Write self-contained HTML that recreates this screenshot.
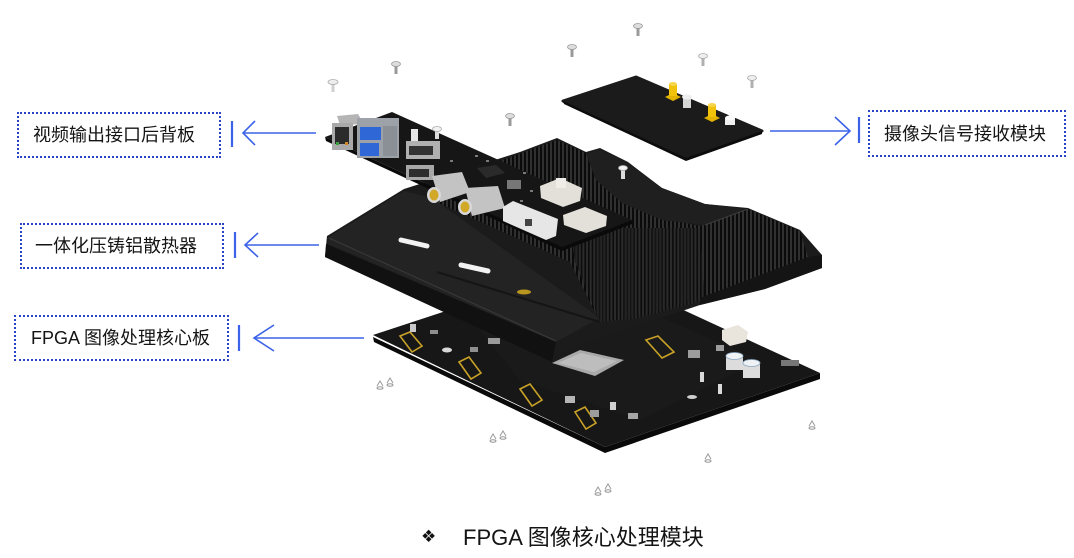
<!DOCTYPE html>
<html><head><meta charset="utf-8">
<style>
html,body{margin:0;padding:0;background:#fff;}
body{width:1074px;height:558px;position:relative;overflow:hidden;font-family:"Liberation Sans","Noto Sans CJK SC",sans-serif;}
.box{position:absolute;border:2px dotted #2b43c6;box-sizing:border-box;}
.lbl{position:absolute;font-size:18px;line-height:20px;color:#141414;white-space:nowrap;font-family:"Liberation Sans","Noto Sans CJK SC",sans-serif;}
svg{position:absolute;left:0;top:0;}
.cap{position:absolute;left:463px;top:524px;font-size:22px;line-height:28px;color:#141414;white-space:nowrap;}
.dia{position:absolute;left:421px;top:527px;font-size:17px;line-height:20px;color:#111;font-family:"DejaVu Sans",sans-serif;}
</style></head><body>

<svg width="1074" height="558" viewBox="0 0 1074 558" xmlns="http://www.w3.org/2000/svg">
<defs>
<pattern id="fins" width="4" height="10" patternUnits="userSpaceOnUse">
<rect width="4" height="10" fill="#303030"/><rect width="2" height="10" fill="#0b0b0b"/>
</pattern>
<pattern id="fins2" width="3.5" height="10" patternUnits="userSpaceOnUse">
<rect width="3.5" height="10" fill="#2a2a2a"/><rect width="1.6" height="10" fill="#0d0d0d"/>
</pattern>
</defs>

<!-- arrows -->
<g stroke="#3b62e8" fill="none" stroke-width="1.6">
<line x1="232" y1="121" x2="232" y2="147" stroke-width="2.2"/>
<line x1="243" y1="133" x2="316" y2="133"/>
<polyline points="255,121 243,133 255,145"/>
<line x1="235" y1="232" x2="235" y2="258" stroke-width="2.2"/>
<line x1="245" y1="245" x2="319" y2="245"/>
<polyline points="258,233 245,245 258,257"/>
<line x1="239" y1="325" x2="239" y2="351" stroke-width="2.2"/>
<line x1="254" y1="338" x2="364" y2="338"/>
<polyline points="274,325 254,338 274,351"/>
<line x1="859" y1="117" x2="859" y2="143" stroke-width="2.2"/>
<line x1="770" y1="131" x2="850" y2="131"/>
<polyline points="835,117 850,131 835,145"/>
</g>

<!-- ===== bottom PCB ===== -->
<polygon points="373,337 605,447 820,373 820,379 605,453 374,342" fill="#0a0a0a"/>
<polygon points="373,335 586,265 820,373 605,447" fill="#171717"/>
<polygon points="480,330 620,300 760,360 640,420 520,380" fill="#1c1c1c" opacity="0.6"/>
<!-- chip -->
<polygon points="552,363 580,350 624,360 595,376" fill="#a9a9a9"/>
<polygon points="558,363 581,353 617,361 594,372" fill="#bdbdbd"/>
<!-- gold connectors -->
<g fill="none" stroke="#c9a227" stroke-width="1.6">
<polygon points="400,336 410,332 422,346 412,352"/>
<polygon points="459,362 469,357 481,373 471,379"/>
<polygon points="520,389 530,384 542,400 532,406"/>
<polygon points="575,412 585,407 596,423 586,429"/>
<polygon points="646,340 658,336 674,352 662,358"/>
</g>
<!-- components -->
<g fill="#8f8f8f">
<rect x="410" y="324" width="6" height="8" fill="#c9c9c9"/>
<rect x="430" y="330" width="8" height="4"/>
<rect x="488" y="338" width="12" height="6" fill="#9a9a9a"/>
<rect x="470" y="347" width="8" height="5"/>
<ellipse cx="447" cy="350" rx="5" ry="2.5" fill="#d8d8d8"/>
<rect x="565" y="396" width="10" height="7" fill="#b5b5b5"/>
<rect x="590" y="410" width="9" height="7" fill="#9d9d9d"/>
<rect x="610" y="402" width="6" height="8" fill="#d0d0d0"/>
<rect x="628" y="413" width="10" height="6" fill="#a5a5a5"/>
<rect x="688" y="350" width="12" height="8" fill="#9d9d9d"/>
<rect x="716" y="345" width="8" height="6" fill="#9d9d9d"/>
<rect x="700" y="372" width="4" height="10" fill="#d9d9d9"/>
<rect x="718" y="384" width="4" height="10" fill="#d9d9d9"/>
<rect x="781" y="360" width="18" height="6" fill="#777"/>
<ellipse cx="692" cy="397" rx="5" ry="2" fill="#cfcfcf"/>
</g>
<!-- caps -->
<rect x="726" y="356" width="17" height="14" fill="#dcdcdc"/>
<ellipse cx="734.5" cy="356" rx="8.5" ry="3.5" fill="#eef2f5" stroke="#8aa6c0" stroke-width="0.8"/>
<rect x="743" y="363" width="17" height="15" fill="#dcdcdc"/>
<ellipse cx="751.5" cy="363" rx="8.5" ry="3.5" fill="#eef2f5" stroke="#8aa6c0" stroke-width="0.8"/>
<!-- white connector -->
<polygon points="722,330 738,325 748,332 746,342 730,346 722,340" fill="#e9e4dc"/>

<!-- ===== heatsink ===== -->
<polygon points="327,236 404,189 470,168 520,152 557,138 586,152 600,148 628,162 662,188 705,204 748,208 800,230 822,255 822,268 765,289 700,305 640,325 565,350 552,362 325,257" fill="#1b1b1b"/>
<!-- plate top face -->
<polygon points="329,237 404,191 432,198 600,318 556,342 328,244" fill="#232323"/>
<!-- front strip -->
<polygon points="326,244 556,342 552,362 325,257" fill="#111"/>
<line x1="329" y1="238" x2="556" y2="341" stroke="#3a3a3a" stroke-width="1"/>
<line x1="437" y1="272" x2="600" y2="322" stroke="#151515" stroke-width="2"/>
<!-- fins -->
<polygon points="432,186 557,140 586,153 595,178 620,200 660,218 700,226 748,209 800,231 808,257 700,298 640,316 600,322 570,262 432,200" fill="url(#fins)"/>
<polygon points="570,228 700,228 705,300 640,318 600,322 575,262" fill="url(#fins2)" opacity="0.8"/>
<!-- plateau -->
<polygon points="586,153 600,150 628,163 662,188 705,204 748,209 705,225 662,220 622,203 596,180" fill="#1f1f1f"/>
<line x1="748" y1="209" x2="705" y2="225" stroke="#3c3c3c" stroke-width="1"/>
<!-- right flange edge -->
<polygon points="808,257 822,255 822,268 765,289 700,305 700,298" fill="#141414"/>
<!-- slots & spot -->
<line x1="401" y1="240" x2="427" y2="246" stroke="#f2f2f2" stroke-width="5" stroke-linecap="round"/>
<line x1="461" y1="265" x2="488" y2="271" stroke="#f2f2f2" stroke-width="5" stroke-linecap="round"/>
<ellipse cx="524" cy="292" rx="7" ry="2.5" fill="#b8961f"/>

<!-- ===== rear board ===== -->
<polygon points="325,137 392,112 632,220 562,247" fill="#161616"/>
<polygon points="325,137 562,247 562,251 326,141" fill="#0a0a0a"/>
<polygon points="562,247 632,220 632,224 562,251" fill="#0a0a0a"/>
<!-- RJ45 -->
<polygon points="337,116 358,114 364,124 340,125" fill="#b5b5b5"/>
<rect x="332" y="123" width="21" height="27" fill="#a9a9a9"/>
<rect x="335" y="127" width="14" height="17" fill="#2b2b2b"/>
<rect x="336" y="142" width="3" height="3" fill="#3aa040"/>
<rect x="345" y="142" width="3" height="3" fill="#d08a2a"/>
<!-- USB -->
<rect x="357" y="118" width="42" height="40" fill="#9da2a8"/>
<rect x="360" y="127" width="21" height="13" fill="#2f67d6"/>
<rect x="360" y="143" width="19" height="13" fill="#2f67d6"/>
<rect x="383" y="126" width="14" height="30" fill="#8b9096"/>
<!-- post -->
<rect x="411" y="129" width="7" height="13" fill="#e6e6e6"/>
<!-- HDMI -->
<rect x="406" y="141" width="34" height="18" fill="#b0b0b0"/>
<rect x="409" y="146" width="24" height="9" fill="#333"/>
<rect x="406" y="165" width="28" height="15" fill="#a6a6a6"/>
<rect x="409" y="169" width="20" height="8" fill="#2d2d2d"/>
<!-- BNC -->
<polygon points="432,176 462,172 470,192 440,202" fill="#c3c3c3"/>
<ellipse cx="434" cy="195" rx="7" ry="8" fill="#d8d8d8"/>
<ellipse cx="434" cy="195" rx="4.5" ry="5.5" fill="#d2a828"/>
<polygon points="465,188 498,186 505,208 472,216" fill="#c3c3c3"/>
<ellipse cx="465" cy="207" rx="7" ry="8" fill="#d8d8d8"/>
<ellipse cx="465" cy="207" rx="4.5" ry="5.5" fill="#d2a828"/>
<!-- chips -->
<polygon points="477,168 496,165 505,173 486,178" fill="#2a2a2a"/>
<rect x="507" y="180" width="14" height="9" fill="#777"/>
<g fill="#7a7a7a">
<rect x="475" y="155" width="3" height="2"/><rect x="486" y="160" width="3" height="2"/>
<rect x="523" y="172" width="3" height="2"/><rect x="530" y="190" width="3" height="2"/>
<rect x="450" y="160" width="3" height="2"/><rect x="520" y="200" width="3" height="2"/>
</g>
<!-- DVI -->
<polygon points="503,207 513,201 558,219 556,236 546,240 503,221" fill="#e6e6e6"/>
<rect x="525" y="219" width="7" height="7" fill="#444"/>
<!-- white connectors -->
<polygon points="540,186 560,178 582,188 580,201 563,207 541,198" fill="#e3e0da"/>
<rect x="556" y="178" width="10" height="10" fill="#f0ede8"/>
<polygon points="563,215 585,207 607,216 606,226 586,233 564,225" fill="#e3e0da"/>

<!-- ===== camera board ===== -->
<polygon points="563,101 636,77 762,131 686,158" fill="#1b1b1b" stroke="#1b1b1b" stroke-width="3" stroke-linejoin="round"/>
<polygon points="563,101 686,158 686,161 564,104" fill="#0c0c0c"/>
<polygon points="686,158 762,131 762,134 686,161" fill="#0c0c0c"/>
<!-- yellow SMA -->
<polygon points="665,97 673,93 681,97 673,101" fill="#e2b300"/>
<rect x="669" y="84" width="8" height="12" fill="#f0c20a"/>
<ellipse cx="673" cy="84" rx="4" ry="2" fill="#f7d54a"/>
<polygon points="704,118 712,114 720,118 712,122" fill="#e2b300"/>
<rect x="708" y="105" width="8" height="12" fill="#f0c20a"/>
<ellipse cx="712" cy="105" rx="4" ry="2" fill="#f7d54a"/>
<!-- white parts -->
<rect x="683" y="97" width="8" height="11" fill="#d5d5d5"/>
<ellipse cx="687" cy="97" rx="5" ry="2.5" fill="#eee"/>
<rect x="725" y="118" width="10" height="7" fill="#efefef"/>
<ellipse cx="730" cy="118" rx="5" ry="2.5" fill="#fafafa"/>

<!-- ===== screws ===== -->
<g>
<g transform="translate(333,82)"><rect x="-1.5" y="0" width="3" height="10" fill="#cfcfcf"/><ellipse cx="0" cy="0" rx="5" ry="2.5" fill="#eee" stroke="#aaa" stroke-width="0.8"/></g>
<g transform="translate(396,64)"><rect x="-1.5" y="0" width="3" height="10" fill="#9a9a9a"/><ellipse cx="0" cy="0" rx="4.5" ry="2.5" fill="#ddd" stroke="#999" stroke-width="0.8"/></g>
<g transform="translate(572,47)"><rect x="-1.5" y="0" width="3" height="10" fill="#9a9a9a"/><ellipse cx="0" cy="0" rx="4.5" ry="2.5" fill="#ddd" stroke="#999" stroke-width="0.8"/></g>
<g transform="translate(638,26)"><rect x="-1.5" y="0" width="3" height="10" fill="#9a9a9a"/><ellipse cx="0" cy="0" rx="4.5" ry="2.5" fill="#ddd" stroke="#999" stroke-width="0.8"/></g>
<g transform="translate(703,56)"><rect x="-1.5" y="0" width="3" height="10" fill="#b0b0b0"/><ellipse cx="0" cy="0" rx="4.5" ry="2.5" fill="#eee" stroke="#aaa" stroke-width="0.8"/></g>
<g transform="translate(752,78)"><rect x="-1.5" y="0" width="3" height="10" fill="#b0b0b0"/><ellipse cx="0" cy="0" rx="4.5" ry="2.5" fill="#eee" stroke="#aaa" stroke-width="0.8"/></g>
<g transform="translate(510,116)"><rect x="-1.5" y="0" width="3" height="10" fill="#9a9a9a"/><ellipse cx="0" cy="0" rx="4.5" ry="2.5" fill="#ddd" stroke="#999" stroke-width="0.8"/></g>
<g transform="translate(623,168)"><rect x="-2" y="0" width="4" height="11" fill="#dcdcdc"/><ellipse cx="0" cy="0" rx="4.5" ry="2.5" fill="#f2f2f2" stroke="#aaa" stroke-width="0.8"/></g>
<g transform="translate(437,129)"><rect x="-2" y="0" width="4" height="10" fill="#dcdcdc"/><ellipse cx="0" cy="0" rx="4.5" ry="2.5" fill="#f2f2f2" stroke="#aaa" stroke-width="0.8"/></g>
</g>
<!-- standoffs -->
<g fill="none" stroke="#9a9a9a" stroke-width="1">
<g transform="translate(385,384)"><path d="M-8,2 l3,-5 l3,5 M2,-1 l3,-5 l3,5"/><ellipse cx="-5" cy="4" rx="3" ry="1.2"/><ellipse cx="5" cy="1" rx="3" ry="1.2"/></g>
<g transform="translate(498,437)"><path d="M-8,2 l3,-5 l3,5 M2,-1 l3,-5 l3,5"/><ellipse cx="-5" cy="4" rx="3" ry="1.2"/><ellipse cx="5" cy="1" rx="3" ry="1.2"/></g>
<g transform="translate(603,490)"><path d="M-8,2 l3,-5 l3,5 M2,-1 l3,-5 l3,5"/><ellipse cx="-5" cy="4" rx="3" ry="1.2"/><ellipse cx="5" cy="1" rx="3" ry="1.2"/></g>
<g transform="translate(708,458)"><path d="M-3,1 l3,-5 l3,5"/><ellipse cx="0" cy="3" rx="3" ry="1.2"/></g>
<g transform="translate(812,425)"><path d="M-3,1 l3,-5 l3,5"/><ellipse cx="0" cy="3" rx="3" ry="1.2"/></g>
</g>
</svg>

<div class="box" style="left:17px;top:112px;width:204px;height:46px;"></div>
<div class="lbl" style="left:33px;top:125px;">视频输出接口后背板</div>

<div class="box" style="left:20px;top:223px;width:204px;height:46px;"></div>
<div class="lbl" style="left:35px;top:236px;">一体化压铸铝散热器</div>

<div class="box" style="left:14px;top:315px;width:215px;height:46px;"></div>
<div class="lbl" style="left:31px;top:328px;">FPGA 图像处理核心板</div>

<div class="box" style="left:868px;top:110px;width:198px;height:47px;"></div>
<div class="lbl" style="left:884px;top:124px;">摄像头信号接收模块</div>

<div class="dia">❖</div>
<div class="cap">FPGA 图像核心处理模块</div>
</body></html>
